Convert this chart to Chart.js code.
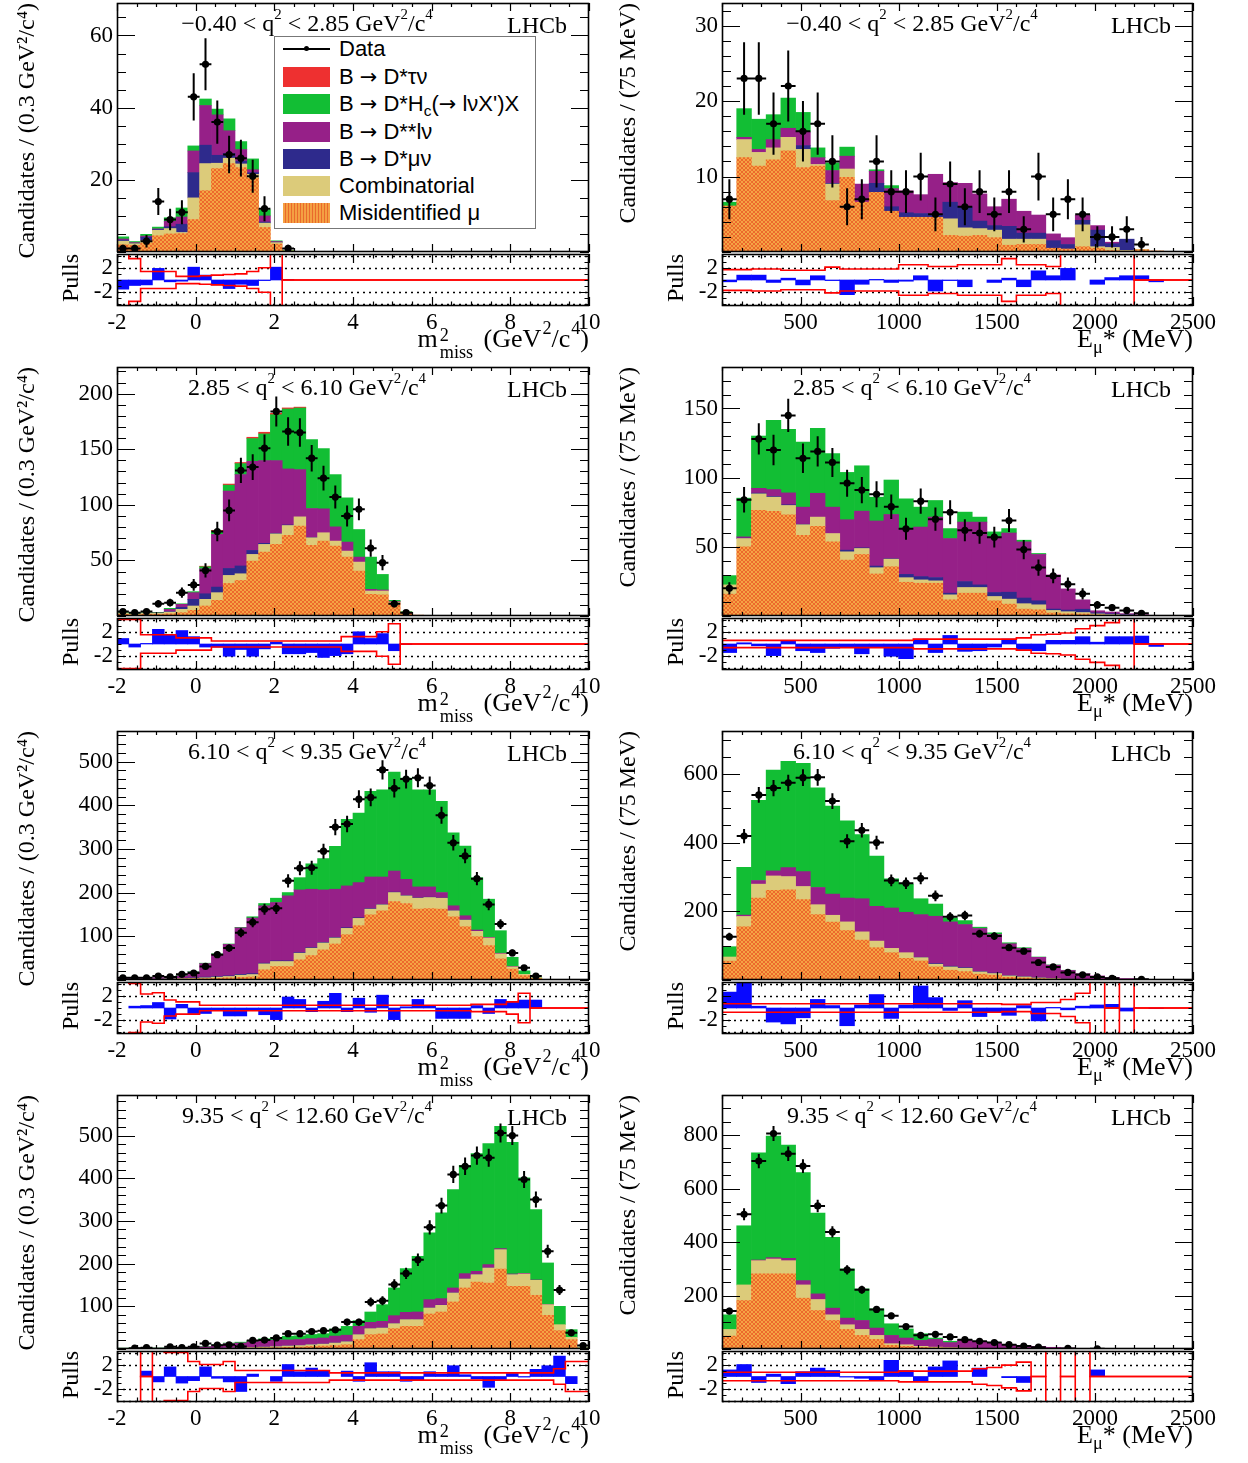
<!DOCTYPE html>
<html><head><meta charset="utf-8">
<script src="https://cdn.jsdelivr.net/npm/chart.js@4.4.1/dist/chart.umd.min.js"></script>
<style>
html,body{margin:0;padding:0;background:#fff;}
#wrap{position:relative;width:1248px;height:1463px;overflow:hidden;background:#fff;}
canvas{position:absolute;}
.t{position:absolute;font-family:"Liberation Serif","Times New Roman",serif;color:#000;white-space:nowrap;line-height:24px;font-size:23px;}
.t sup{font-size:0.62em;vertical-align:0.8em;line-height:0;}
.t sub{font-size:0.7em;vertical-align:-0.35em;line-height:0;}
.xt sup{font-size:0.7em;vertical-align:0.7em;margin-left:1px;}
.ss{display:inline-block;font-size:0.7em;line-height:0.95;vertical-align:-0.62em;text-align:left;margin-left:2px;margin-right:4px;}
.legend{position:absolute;border:1px solid #777;background:#fff;box-sizing:border-box;font-family:"Liberation Sans",Arial,sans-serif;font-size:22px;color:#000;}
.lr{position:absolute;left:0;width:100%;height:24px;}
.sw{position:absolute;left:8px;width:47px;height:20px;top:2px;}
.lt{position:absolute;left:64px;top:0;line-height:24px;white-space:nowrap;}
.lt sub{font-size:0.7em;line-height:0;vertical-align:-0.3em;}
.ar{font-family:"DejaVu Sans",sans-serif;font-size:0.95em;}
.dl{position:absolute;left:8px;top:11px;width:47px;height:1.5px;background:#000;}
.dd{position:absolute;left:29px;top:9px;width:5px;height:5px;border-radius:50%;background:#000;}
</style></head>
<body><div id="wrap"></div>
<script>
// ================= DATA =================
// binning of the two observables
const massBins   = {lo:-2,  width:0.3, count:40};   // m2_miss, GeV2/c4
const energyBins = {lo:100, width:75,  count:32};   // E_mu*, MeV
const massTicks   = [-2,0,2,4,6,8,10];
const energyTicks = [500,1000,1500,2000,2500];
const pullTicks   = [-2,2];
const pullGuides  = [-4,-2,2,4];

// ---- panel L1 : -0.40 < q2 < 2.85, m2_miss ----
const L1_misid=[2.0,1.8,2.5,4.5,5.0,5.1,9.0,17.0,23.1,24.5,23.4,20.5,6.8,2.2,0.3];
const L1_comb =[1.0,0.5,0.6,1.5,1.5,0.3,6.0,7.5,1.5,1.5,1.0,1.0,1.2,0.4,0];
const L1_dmu  =[0.3,0.1,1.0,0.2,0.5,2.3,7.0,5.1,2.2,1.3,0.8,0.5,0.3,0.1,0];
const L1_dss  =[0.3,0.2,0.3,0.2,1.5,2.0,6.0,11.0,11.2,6.3,3.2,0.8,1.7,0.2,0];
const L1_hc   =[0.6,0.3,0.5,0.5,1.0,2.5,1.4,1.8,1.6,3.3,2.2,3.0,1.7,0.2,0.1];
const L1_tau  =[];
const L1_data =[1,1,3,14,9,11,43,52,36,27,26,21,12,null,1];
const L1_pull =[-1.5,-0.9,-0.8,1.9,-0.3,-0.2,2.1,0.8,-0.8,-1.4,-0.7,-0.9,-0.1,2.1,0.1];
const L1_band =[4.2,4.2,3.5,1.4,1.4,1.4,0.6,0.6,0.7,0.8,0.9,1.0,1.4,2.0,6];
const L1_yTicks=[20,40,60];

// ---- panel R1 : -0.40 < q2 < 2.85, E_mu* ----
const R1_misid=[6.1,12.5,11.4,12.2,13.4,11.2,11.4,6.8,9.9,6.6,7.9,5.4,4.6,4.6,4.6,2.2,2.1,2.2,1.9,0.9,1.0,1.0,0.5,0.4,0.7,0.5,0.2,0.1,0.3,0.15];
const R1_comb =[0,2.4,1.8,1.6,1.8,2.4,0.2,2.2,1.1,0,0,0,0,0,0,2.2,1.1,0.9,1.0,0.8,0.7,0.7,0,0,2.9,0.2,0.4,0.1,0.05,0];
const R1_dmu  =[0,0,0,0,0,0.5,0,0.1,0,0,1.2,0.6,0.6,0.5,0.3,2.2,2.8,1.0,0.6,1.7,0.8,0.8,1.0,0.6,0.6,2.2,0.5,1.5,0,0];
const R1_dss  =[0,0.3,0.4,1.1,1.2,1.8,0.9,1.7,1.7,2.4,1.6,2.4,2.9,2.5,5.4,2.6,3.1,3.6,2.5,3.6,2.9,2.4,0.9,0.9,0.7,0.6,0.2,0,0,0];
const R1_hc   =[0.5,3.8,4.0,3.3,4.0,2.6,1.3,1.0,1.2,0,0.2,0.4];
const R1_tau  =[];
const R1_data =[7,23,23,17,22,16,17,12,6,7,12,8,8,10,5,9,6,8,5,8,3,10,5,7,5,2,2,3,1];
const R1_pull =[-0.3,0.8,0.8,-0.4,0.3,-0.8,0.7,-0.1,-2.4,-0.7,0.1,-0.4,-0.2,0.7,-1.8,-0.1,-1.1,0,-0.4,0.3,-1.1,1.5,0.7,1.9,0,-0.7,0.4,0.7,0.7,-0.3];
const R1_band =[2.2,1.7,1.7,1.8,1.8,1.6,1.6,1.6,2.1,1.8,1.8,1.8,1.8,2.5,2.5,2.2,2.2,2.5,2.5,2.5,3.5,2.5,2.5,2.2,4.5,4.5,4.5,4.5,4.5];
const R1_yTicks=[10,20,30];

// ---- panel L2 : 2.85 < q2 < 6.10, m2_miss ----
const L2_misid=[1.5,1.0,1.5,1.5,2.0,3.0,5.1,9.0,14.1,29.3,32.0,49.4,57.5,64.4,72.5,80.8,63.5,67.4,62.9,53.0,40.4,19.5,19.0,11.5,3.0,0.8];
const L2_comb =[1.0,0.6,0.8,0.8,1.5,3.0,3.9,6.0,6.9,7.2,6.0,6.0,6.9,9.5,8.9,8.4,6.9,7.5,4.5,5.4,8.1,3.0,3.5,1.0,0.5];
const L2_dmu  =[0,0,0,0,0.5,1.8,6.0,5.0,5.0,6.3,7.0,3.6,1.0,0.5,0.5,0,0.3];
const L2_dss  =[0,0,0.3,0.5,2.0,2.7,6.0,22.5,47.4,69.5,82.2,80.2,74.4,65.4,50.4,42.5,26.0,21.5,12.8,8.1,4.5,1.5,0.9,0.6];
const L2_hc   =[0.5,0.5,0.4,0.5,0.9,0.5,0.9,1.8,2.9,5.4,9.9,20.4,24.0,41.3,53.9,55.4,62.0,54.2,47.0,39.8,24.8,29.0,14.0,1.0,0.4];
const L2_tau  =[0,0,0,0,0,0,0,0.5,0.8,1.0,1.0,1.2,1.5,1.2,1.0,0.8];
const L2_data =[4,3,4,11,12,21,28,41,76,95,131,134,151,184,166,165,142,124,107,90,96,61,48,11,3];
const L2_pull =[0.9,-0.5,0.1,2.4,1.5,2.2,1.2,-0.5,-0.5,-2.0,-0.9,-2.0,-0.8,0.3,-1.6,-1.6,-1.4,-2.2,-1.9,-1.6,2.0,0.9,1.7,-1.1,-0.1];
const L2_band =[4.0,4.0,4.0,1.5,1.5,1.5,1.0,1.0,1.0,0.5,0.5,0.5,0.5,0.5,0.5,0.5,0.5,0.5,0.5,0.5,1.2,1.2,1.2,2.0,3.3];
const L2_yTicks=[50,100,150,200];

// ---- panel R2 : 2.85 < q2 < 6.10, E_mu* ----
const R2_misid=[15.8,50,76.3,75.6,73.2,58.4,64.8,53.6,40.4,44.5,30.4,35.6,24.4,23.7,23.7,11.7,16.5,16.5,11.0,8.6,5.0,4.5,2.2,1.6,1.5,0.8,0.5,0.3,0.2,0.1];
const R2_comb =[6.7,6.0,12.0,10.3,6.7,7.6,6.7,6.0,6.0,4.3,4.5,5.5,3.3,2.4,1.7,3.6,4.1,4.1,3.1,3.6,3.9,3.6,1.8,1.5,1.0,0.7,0.5,0.3];
const R2_dmu  =[0,0.3,0.5,0.5,0.5,0.3,0,0,1.2,0.5,1.2,0.3,2.4,2.4,2.4,1.2,4.3,1.9,2.9,5.0,4.1,2.9,1.0,1.2,2.4,0.8,0.6,0.4,0.3];
const R2_dss  =[0,0.9,3.5,5.0,8.6,12.4,17.2,19.1,22.0,26.5,32.6,32.0,32.3,35.8,43.7,39.5,43.0,45.4,40.2,42.8,40.6,33.5,24.7,15.3,6.8,1.5,1.3,0.7,0.5,0.1];
const R2_hc   =[6.7,28.0,37.8,50.0,45.9,47.1,46.9,38.7,34.2,32.8,17.2,24.9,22.3,14.4,12.0,7.2,7.2,3.6,3.6,3.2,1.2,0.7];
const R2_tau  =[];
const R2_data =[20,84,128,120,145,114,119,111,96,91,88,79,63,83,70,75,62,60,57,69,48,35,29,23,16,8,6,4,2];
const R2_pull =[-1.4,0.2,-0.3,-1.9,0.6,-1.1,-1.4,-0.7,-0.5,-1.6,-0.5,-2.0,-2.4,0.8,-1.4,1.4,-1.2,-1.1,-0.5,0.8,-0.9,-1.1,0.6,0.6,1.2,0.3,1.2,1.2,1.3,-0.4];
const R2_band =[1.4,0.6,0.6,0.6,0.6,0.6,0.6,0.6,0.6,0.6,0.6,0.6,0.6,0.6,0.8,0.8,0.8,0.8,0.8,0.8,0.8,1.0,1.5,1.6,1.8,2.5,3.0,3.5,4.5];
const R2_yTicks=[50,100,150];

// ---- panel L3 : 6.10 < q2 < 9.35, m2_miss ----
const L3_misid=[1.0,1.0,1.0,1.2,1.5,2.0,2.5,3.0,4.0,5.0,6.0,7.0,23.3,30.9,30.9,46.1,56.0,68.9,82.5,103.8,124.3,149.3,158.4,179.7,175.1,162.2,163.7,162.2,144.8,122.0,99.2,78.7,48.4,25.0,10.0,4.0];
const L3_comb =[0.8,0.8,0.8,0.8,1.0,1.2,1.5,2.0,2.5,3.0,5.0,5.5,13.7,11.4,11.4,15.2,16.7,15.9,13.7,14.4,16.7,12.9,13.7,20.5,17.5,25.1,25.1,25.1,13.6,15.2,12.2,17.5,11.4,5.0,3.0,1.0];
const L3_dmu  =[0.2,0.2,0.3,0.4,0.5,0.8,1.0,1.5,1.5,1.5,2.0,2.0,1.5,1.5,1.5,1.5,1.5,1.5,1.5,1.5,1.5,1.2,1.0,1.0,1.0,0.8,0.8,0.5,0.5,0.5,0.3];
const L3_dss  =[2.0,2.0,2.2,3.2,4.2,5.4,13.5,31.0,51.0,72.0,106.5,127.3,131.4,133.6,148.8,143.5,133.6,120.0,110.1,95.7,80.5,72.4,62.7,48.3,36.9,25.0,23.5,12.4,11.0,9.4,2.7,1.5,1.5,1.0];
const L3_hc   =[1.1,1.1,0.8,1.0,1.0,1.0,1.0,1.0,1.0,1.0,1.0,3.0,5.2,9.9,7.6,28.0,58.2,71.7,98.2,152.6,159.0,196.2,199.7,226.2,231.5,222.4,222.4,208.7,166.9,159.4,119.9,87.3,51.6,21.0,8.0,0.1];
const L3_tau  =[];
const L3_data =[5,5,5,9,7,13,16,31,58,73,108,132,162,164,227,256,257,295,350,357,414,418,481,439,460,463,445,377,314,284,232,173,128,62,28,9];
const L3_pull =[0,0.3,0.4,0.9,-1.8,0.6,-0.9,-0.9,-0.4,-1.3,-1.3,-0.4,-1.1,-1.9,1.8,1.4,-0.6,1.1,2.4,-0.6,1.6,-0.7,2.1,-1.9,0.2,1.4,0.3,-1.7,-1.7,-1.7,0.4,-0.9,1.4,1.0,1.3,1.3];
const L3_band =[4.3,4.3,4.0,2.3,2.5,1.3,1.0,1.0,0.45,0.45,0.45,0.45,0.45,0.45,0.45,0.45,0.45,0.45,0.45,0.45,0.45,0.45,0.45,0.45,0.45,0.45,0.45,0.45,0.45,0.45,0.45,0.6,0.6,0.6,1.0,2.4];
const L3_yTicks=[100,200,300,400,500];

// ---- panel R3 : 6.10 < q2 < 9.35, E_mu* ----
const R3_misid=[55,155,238.6,261,262.7,233.8,190.4,168.3,144.1,116.1,94,79.5,63.1,55.4,38.1,28.4,24.6,16.9,14,8,6,4,2.5,1.5,1,0.6,0.4,0.2];
const R3_comb =[12,30,40.5,42,38.5,38.5,28.9,20.2,25.1,24.1,19.3,12.6,16.4,9.7,7.7,9.7,9.6,6.7,4.8,4,3,2,1.5,1,0.6,0.4,0.2];
const R3_dmu  =[0,0,0,0,0,0,0,0,0,0,0,0,0,1,2,2,2,1.5,1.5,1,1,0.5,0.3,0.2];
const R3_dss  =[0,4,10.6,14.6,26.1,43.4,50.1,61.6,69.4,96.4,101.2,117.6,117.7,124.3,137.8,129.1,125.3,124.9,112.2,92.5,82,59.5,39,25.3,17,11,6.6,4.1,2.4,1.4];
const R3_hc   =[30,139,233.3,293.4,309.3,315.2,290.2,256.5,224.6,187.1,146.5,85,82.1,46.2,35.6,11.5,11.5,3.8,4.9,2.9,2,1,0.6,0.4,0.2];
const R3_tau  =[];
const R3_data =[126,419,539,559,574,589,590,521,404,436,400,290,282,296,245,184,188,135,128,94,84,51,38,22,15,9,5,null,2];
const R3_pull =[2.6,4.4,0.3,-2.3,-2.6,-1.6,1.4,0.4,-2.9,0.5,2.2,-1.7,0.5,3.6,1.7,-0.4,1.2,-1.4,-0.7,-1.2,0.4,-2.1,0.1,-0.3,0.3,0.5,0.6,-0.5,0,-0.1];
const R3_band =[0.7,0.7,0.7,0.7,0.7,0.7,0.7,0.7,0.7,0.7,0.7,0.7,0.7,0.7,0.7,0.7,0.7,0.7,0.7,0.7,0.6,0.6,0.9,0.9,1.4,2.4,6,0,6];
const R3_yTicks=[200,400,600];

// ---- panel L4 : 9.35 < q2 < 12.60, m2_miss ----
const L4_misid=[0.5,0.5,0.5,0.5,0.5,0.5,0.5,0.5,0.8,1.0,1.2,2.0,2.5,3.0,4.0,4.5,6.0,7.0,8.0,10.0,21.9,33.6,35.2,47.7,53.1,53.1,82.0,86.7,110.2,143.0,157.0,154.7,187.5,146.9,146.9,125.8,78.9,43.0,21.9,2.0];
const L4_comb =[0.5,0.5,0.5,0.5,0.5,0.5,0.5,0.5,0.7,1.0,1.0,1.5,2.0,2.5,3.0,3.5,4.0,4.5,6.0,7.0,11.7,14.1,14.0,11.7,15.7,15.7,14.1,15.6,21.1,21.1,17.2,35.1,45.3,27.3,28.9,35.1,25.0,14.0,5.4,0.5];
const L4_dmu  =[0,0,0,0,0,0,0,0,0.3,0.3,0.3,0.3,0.3,0.3,0.3,0.3,0.3,0.3,0.3,0.3,0.3,0.3,0.3,0.3,0.3,0.3,0.3,0.3,0.3,0.3,0.3,0.3,0.3,0.3];
const L4_dss  =[0.5,0.5,1.0,1.0,1.5,2.0,2.5,4.0,7.0,10.2,11.5,13.2,15.0,15.0,14.0,14.0,14.0,14.0,16.0,15.0,19.2,14.5,15.3,18.4,16.8,17.6,19.2,15.4,11.4,12.2,7.5,7.6,2.1,1.3,1.5,0.8,0.5];
const L4_hc   =[0.5,0.5,0.5,0.5,0.5,0.5,0.5,1.0,1.2,1.5,2.0,3.0,4.2,6.2,8.7,8.7,9.7,10.2,16.7,20.7,13.3,24.2,39.1,64.9,102.4,130.5,156.3,200.8,230.4,253.9,275.8,283.6,286.7,308.6,223.5,164.9,97.2,43.0,18.0,0.5];
const L4_tau  =[];
const L4_data =[null,2,3,null,5,3,5,13,9,10,6,20,21,26,36,36,41,43,45,63,63,110,113,151,177,209,285,336,409,428,453,448,506,500,397,350,229,138,38,8];
const L4_pull =[0,0,0.9,-0.9,1.6,-1.1,-0.7,1.6,-0.3,-0.9,-2.5,0.4,0,-0.8,2.0,0.8,1.4,0.9,0,0.9,-0.8,2.3,0.8,0.8,-0.8,-0.7,0.8,0.4,1.8,0.3,-0.4,-1.8,-0.5,0.5,-0.1,1.2,1.8,3.4,-1.2,0];
const L4_band =[0,6,6,0,4.5,4.0,4.0,2.5,2.0,2.0,2.5,1.0,1.0,1.0,1.0,1.0,1.0,1.0,1.0,0.6,0.6,0.6,0.6,0.6,0.6,0.6,0.6,0.6,0.6,0.6,0.6,0.6,0.6,0.6,0.6,0.6,0.6,0.6,1.3,2.5];
const L4_yTicks=[100,200,300,400,500];

// ---- panel R4 : 9.35 < q2 < 12.60, E_mu* ----
const R4_misid=[48.4,181.4,280.7,280.7,280.7,190.1,144.1,106.8,73.3,50.9,36,13.7,10,6,4,3,2,1.5,1,0.8,0.5,0.4,0.2,0.1];
const R4_comb =[24.8,58.3,49.7,55.9,49.7,49.6,41,21.1,17.4,22.4,14.9,6.2,6,4,3,2,1.5,1,0.8,0.5,0.5,0.3,0.2,0.1];
const R4_dmu  =[];
const R4_dss  =[0,0,2.5,5,8.7,16.2,21.1,24.9,24.8,33.5,27.4,31,25,22.3,29,19,31,25,21,15.6,12.7,9.2,6,3.6,2.5,1.2,0.5,0.3];
const R4_hc   =[54.7,221.2,401.2,454.6,423.6,403.7,301.9,264.6,183.9,118,72,43.5,34,24.7,5,5,1,1.1,0.8,0.5];
const R4_tau  =[];
const R4_data =[142,504,703,806,730,684,535,438,296,222,148,124,84,51,55,45,35,29,24,16,11,7,null,2,null,1];
const R4_pull =[1.1,2.0,-1.0,0.4,-1.2,0.8,1.4,1.0,-0.1,-0.3,-0.6,2.7,1.0,-0.8,1.6,2.6,0,1.4,0,-0.2,-1.0,0,0,0,0,1.1];
const R4_band =[0.7,0.7,0.7,0.7,0.7,0.7,0.7,0.7,0.7,0.7,0.7,0.7,0.7,0.9,0.9,0.9,0.9,0.9,1.3,1.5,1.9,2.4,0,6,0,6];
const R4_yTicks=[200,400,600,800];

// q2 bin labels
const qLabels=['\u22120.40 &lt; q<sup>2</sup> &lt; 2.85 GeV<sup>2</sup>/c<sup>4</sup>',
               '2.85 &lt; q<sup>2</sup> &lt; 6.10 GeV<sup>2</sup>/c<sup>4</sup>',
               '6.10 &lt; q<sup>2</sup> &lt; 9.35 GeV<sup>2</sup>/c<sup>4</sup>',
               '9.35 &lt; q<sup>2</sup> &lt; 12.60 GeV<sup>2</sup>/c<sup>4</sup>'];
const componentNames=['Misidentified \u03bc','Combinatorial','B \u2192 D*\u03bc\u03bd','B \u2192 D**l\u03bd','B \u2192 D*H_c(\u2192 l\u03bdX\')X','B \u2192 D*\u03c4\u03bd'];

// ================= STYLE / LAYOUT =================
const SERIF='"Liberation Serif","Times New Roman",Times,serif';
function misPattern(){
  const c=document.createElement('canvas'); c.width=4; c.height=4;
  const g=c.getContext('2d');
  g.fillStyle='#f5a444'; g.fillRect(0,0,4,4);
  g.fillStyle='#ec6a2c'; g.fillRect(0,0,2,2); g.fillRect(2,2,2,2);
  return g.createPattern(c,'repeat');
}
const COLORS=[misPattern(),'#dccb7a','#2e2a8c','#962088','#12be34','#ee3030'];
const COLS=[{left:117,right:589},{left:722,right:1193}];
const ROWS=[{mt:3,mb:252,pt:254,pb:306},{mt:367,mb:616,pt:618,pb:670},{mt:731,mb:980,pt:982,pb:1034},{mt:1095,mb:1349,pt:1351,pb:1402}];
const YMAX_L=[69,224,570,595], YMAX_R=[33,180,725,950];
const YMINOR_L=[5,10,20,20], YMINOR_R=[2,10,50,50];

const PANELS=[
 {col:0,row:0,c:[L1_misid,L1_comb,L1_dmu,L1_dss,L1_hc,L1_tau],d:L1_data,p:L1_pull,b:L1_band,yt:L1_yTicks,legend:true},
 {col:1,row:0,c:[R1_misid,R1_comb,R1_dmu,R1_dss,R1_hc,R1_tau],d:R1_data,p:R1_pull,b:R1_band,yt:R1_yTicks},
 {col:0,row:1,c:[L2_misid,L2_comb,L2_dmu,L2_dss,L2_hc,L2_tau],d:L2_data,p:L2_pull,b:L2_band,yt:L2_yTicks},
 {col:1,row:1,c:[R2_misid,R2_comb,R2_dmu,R2_dss,R2_hc,R2_tau],d:R2_data,p:R2_pull,b:R2_band,yt:R2_yTicks},
 {col:0,row:2,c:[L3_misid,L3_comb,L3_dmu,L3_dss,L3_hc,L3_tau],d:L3_data,p:L3_pull,b:L3_band,yt:L3_yTicks},
 {col:1,row:2,c:[R3_misid,R3_comb,R3_dmu,R3_dss,R3_hc,R3_tau],d:R3_data,p:R3_pull,b:R3_band,yt:R3_yTicks},
 {col:0,row:3,c:[L4_misid,L4_comb,L4_dmu,L4_dss,L4_hc,L4_tau],d:L4_data,p:L4_pull,b:L4_band,yt:L4_yTicks},
 {col:1,row:3,c:[R4_misid,R4_comb,R4_dmu,R4_dss,R4_hc,R4_tau],d:R4_data,p:R4_pull,b:R4_band,yt:R4_yTicks}
];

const wrap=document.getElementById('wrap');
function mkCanvas(l,t,w,h){const c=document.createElement('canvas');c.width=w;c.height=h;
  c.style.left=l+'px';c.style.top=t+'px';c.style.width=w+'px';c.style.height=h+'px';wrap.appendChild(c);return c;}
function addText(html,style,cls){const d=document.createElement('div');d.className=cls||'t';d.innerHTML=html;Object.assign(d.style,style);wrap.appendChild(d);return d;}
const centers=b=>Array.from({length:b.count},(_,i)=>b.lo+(i+0.5)*b.width);
const edges=b=>Array.from({length:b.count+1},(_,i)=>b.lo+i*b.width);
const nz=(a,i)=>{const v=a[i];return (typeof v==='number'&&v!==0)?v:null;};

function framePlugin(cfg){
  return {id:'rootframe',
    beforeDatasetsDraw(chart){
      if(!cfg.guides) return;
      const {ctx,chartArea:a,scales:{y}}=chart;
      ctx.save();ctx.strokeStyle='#000';ctx.lineWidth=1.3;ctx.setLineDash([2,4]);
      cfg.guides.forEach(g=>{const p=Math.round(y.getPixelForValue(g))+0.5;ctx.beginPath();ctx.moveTo(a.left,p);ctx.lineTo(a.right,p);ctx.stroke();});
      ctx.restore();
    },
    afterDraw(chart){
      const {ctx,chartArea:a,scales:{x,y}}=chart;
      ctx.save();ctx.strokeStyle='#000';ctx.lineWidth=1.2;ctx.beginPath();
      const ys=(v,len)=>{const p=Math.round(y.getPixelForValue(v))+0.5;ctx.moveTo(a.left,p);ctx.lineTo(a.left+len,p);ctx.moveTo(a.right,p);ctx.lineTo(a.right-len,p);};
      const xs=(v,len)=>{const p=Math.round(x.getPixelForValue(v))+0.5;ctx.moveTo(p,a.bottom);ctx.lineTo(p,a.bottom-len);ctx.moveTo(p,a.top);ctx.lineTo(p,a.top+len);};
      for(let k=0;;k++){const v=cfg.yLo+k*cfg.yMinor;if(v>cfg.yHi+1e-9)break;ys(v,cfg.yLen/2);}
      cfg.yMajor.forEach(v=>ys(v,cfg.yLen));
      for(let k=0;;k++){const v=cfg.xLo+k*cfg.xMinor;if(v>cfg.xHi+1e-9)break;xs(v,cfg.xLen/2);}
      cfg.xMajor.forEach(v=>xs(v,cfg.xLen));
      ctx.stroke();
      ctx.lineWidth=1.6;ctx.strokeRect(a.left+0.5,a.top+0.5,a.right-a.left-1,a.bottom-a.top-1);
      ctx.restore();
    }};
}
function errPlugin(cx,vals,half){
  return {id:'errbars',afterDatasetsDraw(chart){
    const {ctx,chartArea:a,scales:{x,y}}=chart;
    ctx.save();ctx.beginPath();ctx.rect(a.left,a.top,a.right-a.left,a.bottom-a.top);ctx.clip();
    ctx.strokeStyle='#000';ctx.lineWidth=2;ctx.beginPath();
    cx.forEach((c,i)=>{const v=nz(vals,i);if(v===null)return;const e=Math.sqrt(v);
      const px=x.getPixelForValue(c),py=y.getPixelForValue(v);
      ctx.moveTo(px,y.getPixelForValue(v+e));ctx.lineTo(px,y.getPixelForValue(Math.max(0,v-e)));
      ctx.moveTo(x.getPixelForValue(c-half),py);ctx.lineTo(x.getPixelForValue(c+half),py);});
    ctx.stroke();ctx.restore();
  }};
}

const AX=117,PV=20,PR=30;
function drawPanel(P){
  const C=COLS[P.col],R=ROWS[P.row],mass=P.col===0;
  const bins=mass?massBins:energyBins, xt=mass?massTicks:energyTicks;
  const W=C.right-C.left,H=R.mb-R.mt,PH=R.pb-R.pt;
  const cx=centers(bins),xe=edges(bins),xlo=bins.lo,xhi=bins.lo+bins.count*bins.width;
  const ymax=mass?YMAX_L[P.row]:YMAX_R[P.row], yminor=mass?YMINOR_L[P.row]:YMINOR_R[P.row];
  const xMinor=mass?0.5:100;
  const tickFont={family:SERIF,size:23};
  // ---------- main stacked histogram ----------
  const cv=mkCanvas(C.left-AX,R.mt-PV,AX+W+PR,H+2*PV);
  const stack=P.c.map((arr,k)=>({type:'bar',label:componentNames[k],data:cx.map((x,i)=>({x,y:nz(arr,i)})),
    backgroundColor:COLORS[k],borderWidth:0,barPercentage:1,categoryPercentage:1,order:1}));
  const dataDs={type:'line',label:'Data',data:cx.map((x,i)=>({x,y:nz(P.d,i)})),showLine:false,pointRadius:3.6,
    pointHoverRadius:0,pointBackgroundColor:'#000',pointBorderWidth:0,borderColor:'#000',stack:'data',order:0};
  new Chart(cv,{type:'bar',data:{datasets:[...stack,dataDs]},
    options:{responsive:false,animation:false,devicePixelRatio:1,events:[],
      layout:{padding:{top:PV,bottom:PV,right:PR,left:0}},
      plugins:{legend:{display:false},tooltip:{enabled:false}},
      scales:{
        x:{type:'linear',min:xlo,max:xhi,offset:false,stacked:true,grid:{display:false,drawTicks:false},border:{display:false},
           ticks:{display:false},afterBuildTicks:s=>{s.ticks=xt.map(v=>({value:v}));},afterFit:s=>{s.height=0;}},
        y:{type:'linear',min:0,max:ymax,stacked:true,grid:{display:false,drawTicks:false},border:{display:false},
           ticks:{font:tickFont,color:'#000',padding:4,callback:v=>String(v)},
           afterBuildTicks:s=>{s.ticks=P.yt.map(v=>({value:v}));},afterFit:s=>{s.width=AX;},
           title:{display:true,align:'end',color:'#000',font:{family:SERIF,size:24},
             text:mass?'Candidates / (0.3 GeV\u00b2/c\u2074)':'Candidates / (75 MeV)',padding:{top:mass?13:9,bottom:0}}}
      }},
    plugins:[framePlugin({yLo:0,yHi:ymax,yMinor:yminor,yMajor:P.yt,yLen:18,xLo:xlo,xHi:xhi,xMinor:xMinor,xMajor:xt,xLen:8}),
             errPlugin(cx,P.d,bins.width/2)]});
  // ---------- pulls ----------
  const pv=mkCanvas(C.left-AX,R.pt-PV,AX+W+PR,PH+PV+40);
  const up=xe.map((x,i)=>({x,y:(P.b[Math.min(i,bins.count-1)]||0)}));
  const lo=xe.map((x,i)=>({x,y:-(P.b[Math.min(i,bins.count-1)]||0)}));
  new Chart(pv,{type:'bar',data:{datasets:[
      {type:'bar',label:'Pulls',data:cx.map((x,i)=>({x,y:nz(P.p,i)})),backgroundColor:'#0808ff',borderWidth:0,barPercentage:1,categoryPercentage:1,order:2},
      {type:'line',label:'band+',data:up,stepped:'after',borderColor:'#ff0000',borderWidth:1.6,pointRadius:0,fill:false,order:1},
      {type:'line',label:'band-',data:lo,stepped:'after',borderColor:'#ff0000',borderWidth:1.6,pointRadius:0,fill:false,order:1}]},
    options:{responsive:false,animation:false,devicePixelRatio:1,events:[],
      layout:{padding:{top:PV,bottom:0,right:PR,left:0}},
      plugins:{legend:{display:false},tooltip:{enabled:false}},
      scales:{
        x:{type:'linear',min:xlo,max:xhi,offset:false,grid:{display:false,drawTicks:false},border:{display:false},
           ticks:{font:tickFont,color:'#000',padding:3,maxRotation:0,autoSkip:false,callback:v=>String(v)},
           afterBuildTicks:s=>{s.ticks=xt.map(v=>({value:v}));},afterFit:s=>{s.height=40;}},
        y:{type:'linear',min:-4.25,max:4.25,grid:{display:false,drawTicks:false},border:{display:false},
           ticks:{font:tickFont,color:'#000',padding:4,callback:v=>String(v)},
           afterBuildTicks:s=>{s.ticks=pullTicks.map(v=>({value:v}));},afterFit:s=>{s.width=AX;},
           title:{display:true,align:'end',color:'#000',font:{family:SERIF,size:24},text:'Pulls',padding:{top:57,bottom:0}}}
      }},
    plugins:[framePlugin({guides:pullGuides,yLo:-4,yHi:4,yMinor:1,yMajor:pullTicks,yLen:9,xLo:xlo,xHi:xhi,xMinor:xMinor,xMajor:xt,xLen:9})]});
  // ---------- text overlays ----------
  addText(qLabels[P.row],{left:(C.left+190)+'px',top:(R.mt+8)+'px',transform:'translateX(-50%)',fontSize:'24px'});
  addText('LHCb',{right:(1248-C.right+22)+'px',top:(R.mt+10)+'px',fontSize:'24px'});
  const xt_html=mass?'m<span class="ss">2<br>miss</span> (GeV<sup>2</sup>/c<sup>4</sup>)':'E<sub>\u03bc</sub>* (MeV)';
  addText(xt_html,{right:(1248-C.right)+'px',top:(R.pb+21)+'px',fontSize:'26px'},'t xt');
  if(P.legend){
    const lg=addText('',{left:'274px',top:'36px',width:'262px',height:'193px'},'legend');
    const A='<span class="ar">\u2192</span>';
    const rows=[['data','Data'],[5,'B '+A+' D*\u03c4\u03bd'],[4,'B '+A+' D*H<sub>c</sub>('+A+' l\u03bdX\')X'],[3,'B '+A+' D**l\u03bd'],
                [2,'B '+A+' D*\u03bc\u03bd'],[1,'Combinatorial'],[0,'Misidentified \u03bc']];
    const tops=[0,28,55,83,110,137,164];
    rows.forEach((r,i)=>{
      const sw=r[0]==='data'?'<div class="dl"></div><div class="dd"></div>':
        (r[0]===0?'<div class="sw" style="background:repeating-linear-gradient(90deg,#f4a043 0 2px,#ea6a2c 2px 3px)"></div>':
         '<div class="sw" style="background:'+COLORS[r[0]]+'"></div>');
      lg.insertAdjacentHTML('beforeend','<div class="lr" style="top:'+tops[i]+'px">'+sw+'<div class="lt">'+r[1]+'</div></div>');
    });
  }
}
PANELS.forEach(drawPanel);
</script></body></html>
